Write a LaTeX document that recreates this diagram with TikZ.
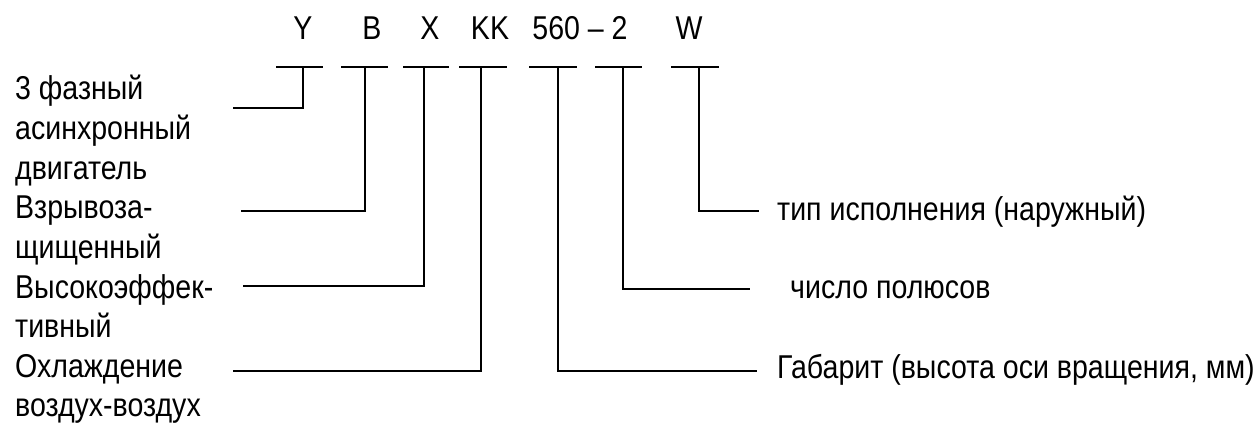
\documentclass[tikz,border=0pt]{standalone}
\usepackage{fontspec}
\setmainfont{Liberation Sans}[FakeStretch=0.865]
\begin{document}
\begin{tikzpicture}[x=1pt,y=-1pt,
  lbl/.style={anchor=base west,inner sep=0pt,font=\fontsize{33}{38}\selectfont},
  code/.style={anchor=base,inner sep=0pt,font=\fontsize{33}{38}\selectfont},
  ln/.style={line width=1.2pt,black}]
\useasboundingbox (0,0) rectangle (1257,425);
% top code letters
\node[code] (cY) at (303,40) {Y};
\node[code] (cB) at (372,40) {B};
\node[code] (cX) at (430,40) {X};
\node[code] (cK) at (490,40) {KK};
\node[code] (cN) at (580,40) {560 -- 2};
\node[code] (cW) at (689,40) {W};
% left labels
\node[lbl] (l1a) at (15,100) {3 фазный};
\node[lbl] (l1b) at (15,139.6) {асинхронный};
\node[lbl] (l1c) at (15,179.2) {двигатель};
\node[lbl] (l2a) at (15,218.8) {Взрывоза-};
\node[lbl] (l2b) at (15,258.4) {щищенный};
\node[lbl] (l3a) at (15,298) {Высокоэффек-};
\node[lbl] (l3b) at (15,337.6) {тивный};
\node[lbl] (l4a) at (15,377.2) {Охлаждение};
\node[lbl] (l4b) at (15,416.8) {воздух-воздух};
% right labels
\node[lbl] (r1) at (777,220) {тип исполнения (наружный)};
\node[lbl] (r2) at (790,298) {число полюсов};
\node[lbl] (r3) at (777,378) {Габарит (высота оси вращения, мм)};
% underline coordinates
\coordinate (u1a) at (276,67); \coordinate (u1b) at (323,67); \coordinate (v1) at (303,67);
\coordinate (u2a) at (341,67); \coordinate (u2b) at (388,67); \coordinate (v2) at (365,67);
\coordinate (u3a) at (403,67); \coordinate (u3b) at (449,67); \coordinate (v3) at (424,67);
\coordinate (u4a) at (459,67); \coordinate (u4b) at (507,67); \coordinate (v4) at (481,67);
\coordinate (u5a) at (529,67); \coordinate (u5b) at (577,67); \coordinate (v5) at (558,67);
\coordinate (u6a) at (595,67); \coordinate (u6b) at (642,67); \coordinate (v6) at (623,67);
\coordinate (u7a) at (671,67); \coordinate (u7b) at (719,67); \coordinate (v7) at (699,67);
% free ends of leaders
\coordinate (e1) at (233,108);
\coordinate (e2) at (241,211);
\coordinate (e3) at (243,286);
\coordinate (e4) at (233,371);
\coordinate (e5) at (757,371);
\coordinate (e6) at (750,289);
\coordinate (e7) at (759,211);
\foreach \i in {1,...,7}{
  \draw[ln] (u\i a) -- (u\i b);
  \draw[ln] (v\i) |- (e\i);
}
\end{tikzpicture}
\end{document}
